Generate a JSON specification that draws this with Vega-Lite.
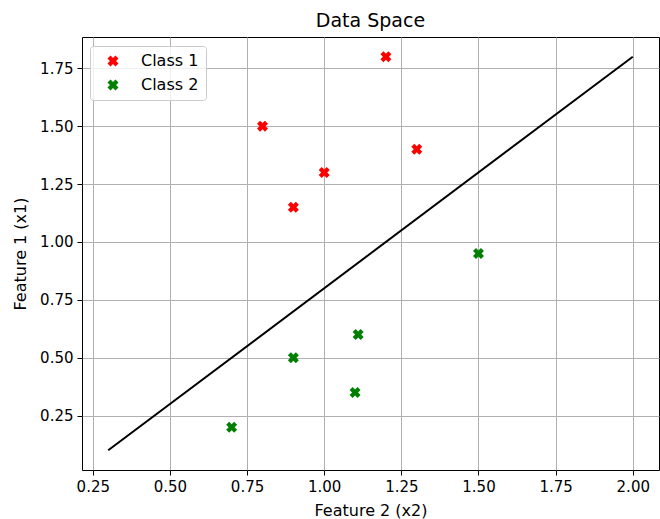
{
  "$schema": "https://vega.github.io/schema/vega-lite/v6.json",
  "width": 577,
  "height": 433,
  "autosize": {"type": "none"},
  "padding": {"left": 82, "top": 37, "right": 1, "bottom": 49},
  "background": "white",
  "title": {"text": "Data Space", "fontSize": 19, "font": "DejaVu Sans", "fontWeight": "normal", "color": "black", "offset": 6},
  "config": {
    "view": {"stroke": "black", "strokeWidth": 1},
    "axis": {
      "labelFont": "DejaVu Sans", "labelFontSize": 15, "labelColor": "black",
      "titleFont": "DejaVu Sans", "titleFontSize": 16, "titleFontWeight": "normal", "titleColor": "black",
      "tickColor": "black", "tickSize": 5, "domain": false, "labelPadding": 4,
      "gridColor": "#b0b0b0", "gridWidth": 1, "gridOpacity": 1
    }
  },
  "datasets": {
    "points": [
      {"x2": 1.2, "x1": 1.8, "cls": "Class 1"},
      {"x2": 0.8, "x1": 1.5, "cls": "Class 1"},
      {"x2": 1.3, "x1": 1.4, "cls": "Class 1"},
      {"x2": 1.0, "x1": 1.3, "cls": "Class 1"},
      {"x2": 0.9, "x1": 1.15, "cls": "Class 1"},
      {"x2": 1.5, "x1": 0.95, "cls": "Class 2"},
      {"x2": 1.11, "x1": 0.6, "cls": "Class 2"},
      {"x2": 0.9, "x1": 0.5, "cls": "Class 2"},
      {"x2": 1.1, "x1": 0.35, "cls": "Class 2"},
      {"x2": 0.7, "x1": 0.2, "cls": "Class 2"}
    ],
    "boundary": [
      {"x2": 0.3, "x1": 0.1},
      {"x2": 2.0, "x1": 1.8}
    ]
  },
  "layer": [
    {
      "data": {"name": "boundary"},
      "mark": {"type": "line", "color": "black", "strokeWidth": 2},
      "encoding": {
        "x": {"field": "x2", "type": "quantitative",
              "scale": {"domain": [0.215, 2.085], "nice": false, "zero": false},
              "axis": {"title": "Feature 2 (x2)", "values": [0.25, 0.5, 0.75, 1.0, 1.25, 1.5, 1.75, 2.0], "format": ".2f", "titlePadding": 8}},
        "y": {"field": "x1", "type": "quantitative",
              "scale": {"domain": [0.015, 1.885], "nice": false, "zero": false},
              "axis": {"title": "Feature 1 (x1)", "values": [0.25, 0.5, 0.75, 1.0, 1.25, 1.5, 1.75], "format": ".2f", "titlePadding": 11}}
      }
    },
    {
      "data": {"name": "points"},
      "mark": {"type": "point", "filled": true, "opacity": 1,
               "shape": "M-1,-0.45L-0.45,-1L0,-0.55L0.45,-1L1,-0.45L0.55,0L1,0.45L0.45,1L0,0.55L-0.45,1L-1,0.45L-0.55,0Z",
               "size": 121},
      "encoding": {
        "x": {"field": "x2", "type": "quantitative"},
        "y": {"field": "x1", "type": "quantitative"},
        "color": {"field": "cls", "type": "nominal",
                  "scale": {"domain": ["Class 1", "Class 2"], "range": ["#ff0000", "#008000"]},
                  "legend": {
                    "title": null, "orient": "none", "legendX": 8, "legendY": 9,
                    "symbolType": "M-1,-0.45L-0.45,-1L0,-0.55L0.45,-1L1,-0.45L0.55,0L1,0.45L0.45,1L0,0.55L-0.45,1L-1,0.45L-0.55,0Z",
                    "symbolSize": 121, "symbolOpacity": 1, "symbolOffset": 8,
                    "labelFont": "DejaVu Sans", "labelFontSize": 16, "labelColor": "black",
                    "labelOffset": 20, "rowPadding": 8,
                    "strokeColor": "#cccccc", "cornerRadius": 3, "fillColor": "rgba(255,255,255,0.8)",
                    "padding": 7
                  }}
      }
    }
  ]
}
